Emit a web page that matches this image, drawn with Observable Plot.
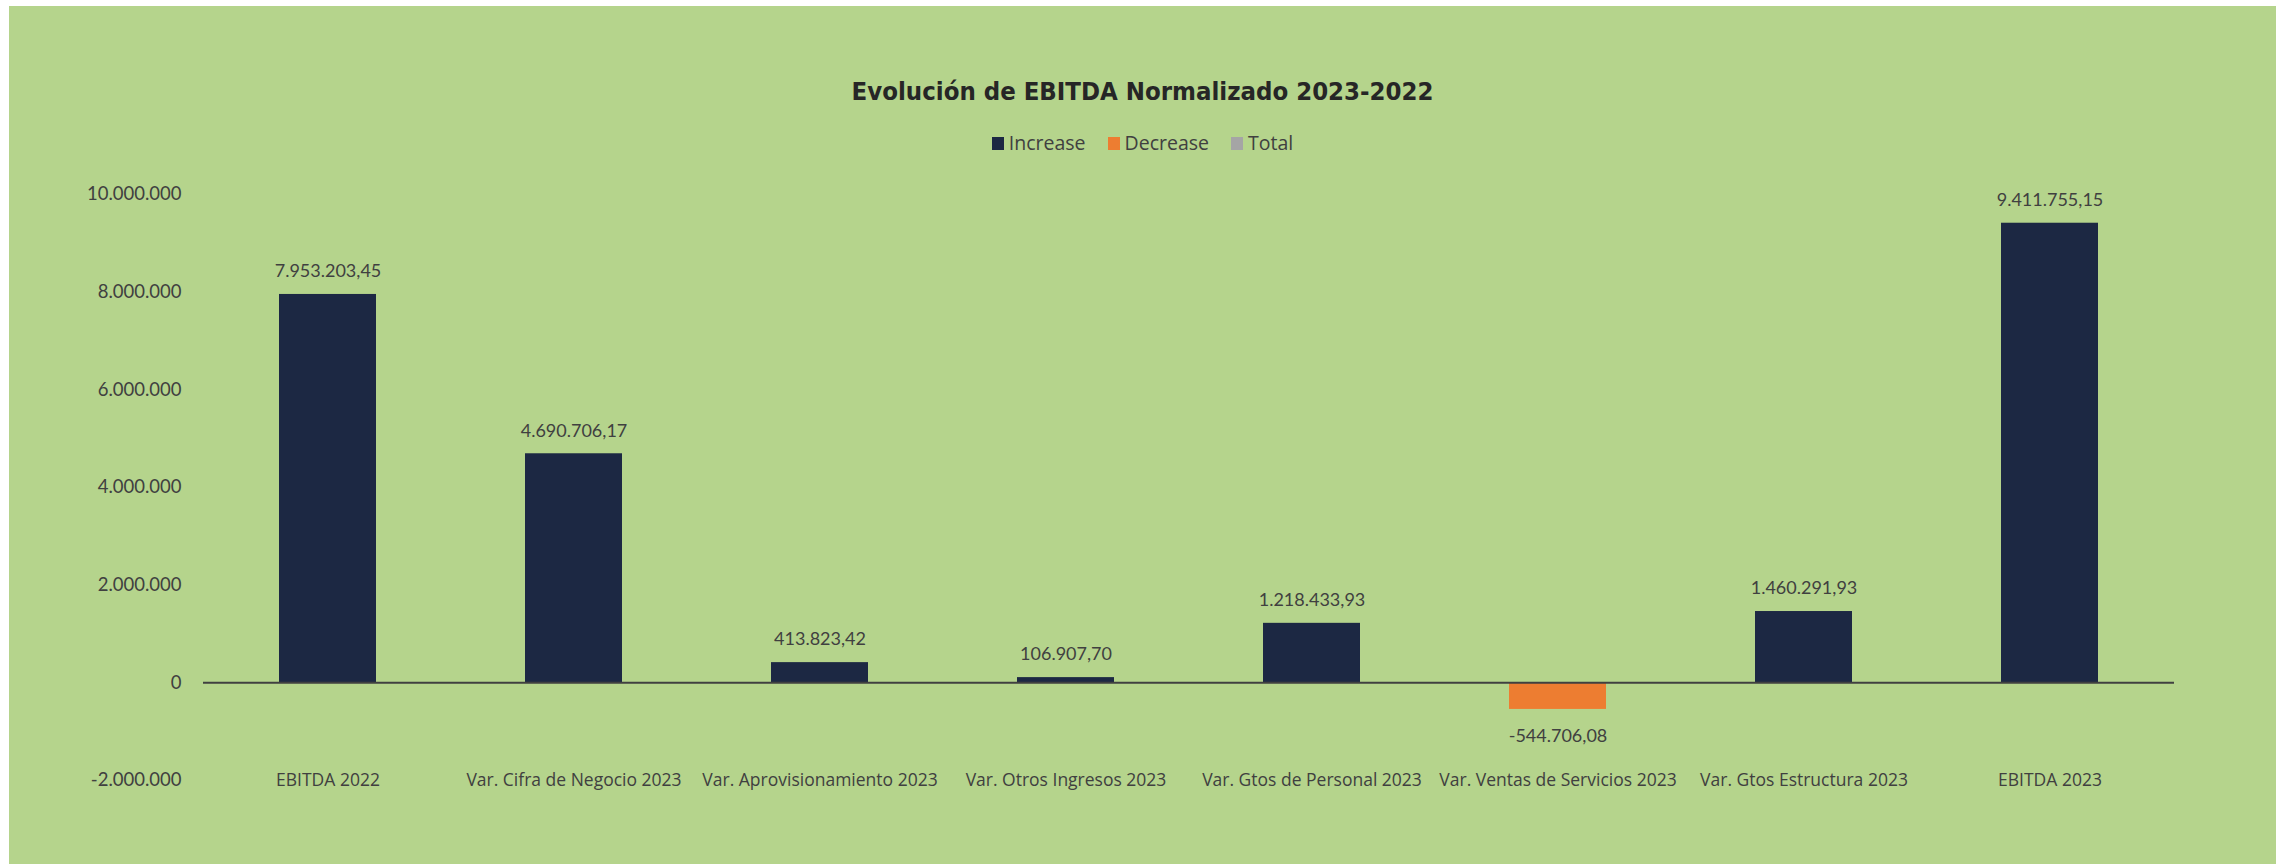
<!DOCTYPE html>
<html>
<head>
<meta charset="utf-8">
<script src="https://cdn.jsdelivr.net/npm/d3@7"></script>
<script src="https://cdn.jsdelivr.net/npm/@observablehq/plot@0.6"></script>
<style>
  html, body { margin: 0; padding: 0; background: #ffffff; }
  body { width: 2285px; height: 864px; position: relative; overflow: hidden; }
  #box { position: absolute; left: 9px; top: 6px; width: 2267px; height: 858px; background: #b5d48c; }
  #title { position: absolute; left: 0; width: 100%; top: 68px; text-align: center;
    font-family: "Liberation Sans Narrow", "DejaVu Sans Condensed", sans-serif; font-weight: bold;
    font-size: 25.5px; color: #262626; line-height: 34px; }
  #legend { position: absolute; left: 0; width: 100%; top: 124px; display: flex; justify-content: center;
    gap: 22px; font-family: "Open Sans", sans-serif; font-size: 19.5px; color: #404040; line-height: 26px; }
  #legend span.item { display: flex; align-items: center; gap: 5px; }
  #legend span.sw { display: inline-block; width: 12px; height: 13px; }
  #chart { position: absolute; left: 0; top: 154px; }
</style>
</head>
<body>
<div id="box">
  <div id="title">Evolución de EBITDA Normalizado 2023-2022</div>
  <div id="legend"></div>
  <div id="chart"></div>
</div>
<script>
const categories = [
  "EBITDA 2022",
  "Var. Cifra de Negocio 2023",
  "Var. Aprovisionamiento 2023",
  "Var. Otros Ingresos 2023",
  "Var. Gtos de Personal 2023",
  "Var. Ventas de Servicios 2023",
  "Var. Gtos Estructura 2023",
  "EBITDA 2023"
];
const values = [7953203.45, 4690706.17, 413823.42, 106907.70, 1218433.93, -544706.08, 1460291.93, 9411755.15];
const legendLabels = ["Increase", "Decrease", "Total"];
const legendColors = ["#1c2843", "#ed7d31", "#a5a5a5"];
const yTicks = [-2000000, 0, 2000000, 4000000, 6000000, 8000000, 10000000];

const locale = d3.formatLocale({decimal: ",", thousands: ".", grouping: [3], currency: ["", "€"], minus: "-"});
const fmtVal = locale.format(",.2f");
const fmtTick = locale.format(",.0f");

const data = categories.map((c, i) => ({
  category: c,
  value: values[i],
  type: values[i] < 0 ? "Decrease" : "Increase"
}));

// legend
const legend = document.getElementById("legend");
legendLabels.forEach((l, i) => {
  const item = document.createElement("span");
  item.className = "item";
  item.innerHTML = `<span class="sw" style="background:${legendColors[i]}"></span><span>${l}</span>`;
  legend.appendChild(item);
});

const chart = Plot.plot({
  width: 2267,
  height: 704,
  marginLeft: 194,
  marginRight: 102,
  marginTop: 34,
  marginBottom: 84,
  style: {background: "transparent", fontFamily: "Lato, sans-serif", color: "#404040", overflow: "visible"},
  x: {domain: categories, paddingInner: 0.604, paddingOuter: 0.302, axis: null},
  y: {domain: [-2000000, 10000000], axis: null},
  color: {domain: legendLabels, range: legendColors},
  marks: [
    Plot.axisY({ticks: yTicks, tickSize: 0, tickPadding: 22, tickFormat: fmtTick, fontSize: 18.5, fill: "#404040", label: null}),
    Plot.barY(data, {x: "category", y: "value", fill: "type"}),
    Plot.ruleY([0], {stroke: "#404040", strokeWidth: 2}),
    Plot.text(data.filter(d => d.value >= 0), {x: "category", y: "value", text: d => fmtVal(d.value), dy: -23, fontSize: 18, fill: "#404040"}),
    Plot.text(data.filter(d => d.value < 0), {x: "category", y: "value", text: d => fmtVal(d.value), dy: 27, fontSize: 18, fill: "#404040"}),
    Plot.text(data, {x: "category", y: () => -2000000, text: "category", fontSize: 17.5, fontFamily: "Open Sans, sans-serif", fill: "#404040"})
  ]
});
document.getElementById("chart").appendChild(chart);
</script>
</body>
</html>
